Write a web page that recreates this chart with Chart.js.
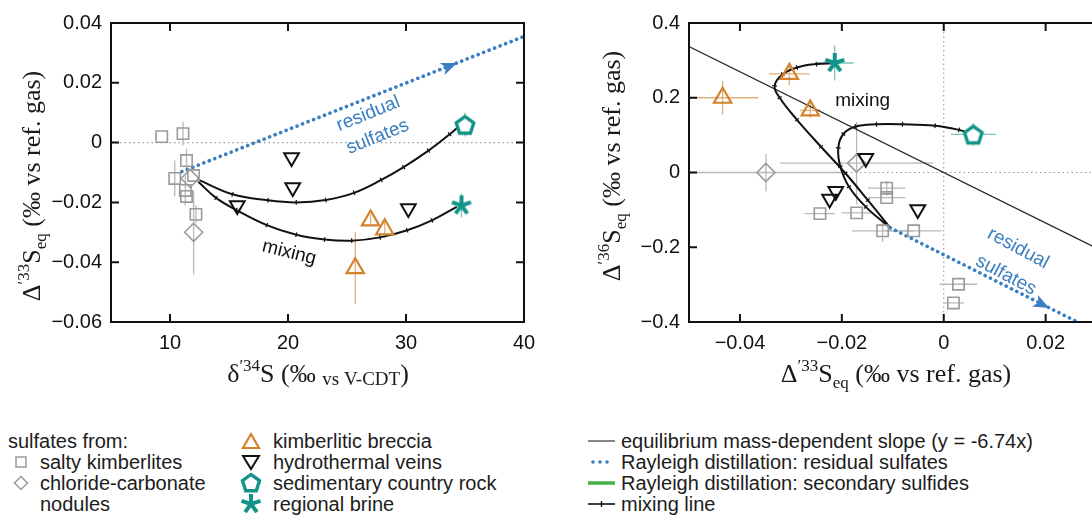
<!DOCTYPE html>
<html><head><meta charset="utf-8">
<script src="https://cdn.jsdelivr.net/npm/chart.js@4.4.1/dist/chart.umd.min.js"></script>
<style>
html,body{margin:0;padding:0;background:#fff;overflow:hidden;width:1092px;height:520px;position:relative;}
#left{position:absolute;left:0;top:0;width:546px;height:400px;}
#right{position:absolute;left:546px;top:0;width:630px;height:400px;}
.lg{position:absolute;font-family:"Liberation Sans",Arial,sans-serif;font-size:20px;color:#1c1c1c;height:22px;line-height:22px;white-space:nowrap;}
.ic{position:absolute;}
</style></head>
<body>
<div id="left"><canvas id="cL"></canvas></div>
<div id="right"><canvas id="cR"></canvas></div>
<div id="legend"></div>
<script>
// ---------------- data ----------------
// left panel: x = δ'34S, y = Δ'33Seq
const xTicksL = [10, 20, 30, 40];
const xTickLabelsL = ['10', '20', '30', '40'];
const yTicksL = [-0.06, -0.04, -0.02, 0, 0.02, 0.04];
const yTickLabelsL = ['\u22120.06', '\u22120.04', '\u22120.02', '0', '0.02', '0.04'];

const squaresL = [
  {x: 9.3, y: 0.002},
  {x: 11.1, y: 0.003, ye: 0.004},
  {x: 11.4, y: -0.006, ye: 0.004},
  {x: 10.4, y: -0.012, ye: 0.006},
  {x: 12.0, y: -0.011},
  {x: 11.3, y: -0.016, ye: 0.005},
  {x: 11.4, y: -0.018},
  {x: 12.2, y: -0.024, ye: 0.003}
];
const diamondsL = [{x: 11.7, y: -0.012}, {x: 12.0, y: -0.030, ye: 0.014}];
const veinsL = [{x: 20.3, y: -0.005}, {x: 20.4, y: -0.015}, {x: 15.7, y: -0.021}, {x: 30.2, y: -0.022}];
const brecciaL = [{x: 27.0, y: -0.026, ye: 0.002}, {x: 28.2, y: -0.029, ye: 0.003}, {x: 25.7, y: -0.042, ye: 0.012}];
const sedimentL = [{x: 35.0, y: 0.006, ye: 0.004}];
const brineL = [{x: 34.7, y: -0.021, ye: 0.004}];
const residualL = [{x: 11.0, y: -0.0097}, {x: 40.0, y: 0.0355}];
const arrowL = {x: 33.7, y: 0.0256};
const mixSedL = [
  {x: 12.3, y: -0.0122}, {x: 15.3, y: -0.0173}, {x: 18.3, y: -0.0193}, {x: 20.7, y: -0.0200},
  {x: 23.2, y: -0.0192}, {x: 25.6, y: -0.0168}, {x: 27.9, y: -0.0125}, {x: 29.8, y: -0.0082},
  {x: 31.9, y: -0.0027}, {x: 33.7, y: 0.0028}, {x: 34.5, y: 0.0055}
];
const mixBrineL = [
  {x: 12.4, y: -0.0131}, {x: 13.9, y: -0.0185}, {x: 15.6, y: -0.0225}, {x: 18.2, y: -0.0276},
  {x: 20.7, y: -0.0308}, {x: 23.1, y: -0.0324}, {x: 25.4, y: -0.0328}, {x: 27.8, y: -0.0317},
  {x: 30.1, y: -0.0293}, {x: 32.2, y: -0.0260}, {x: 34.3, y: -0.0215}
];

// right panel: x = Δ'33Seq, y = Δ'36Seq
const xTicksR = [-0.04, -0.02, 0, 0.02, 0.04];
const xTickLabelsR = ['\u22120.04', '\u22120.02', '0', '0.02', '0.04'];
const yTicksR = [-0.4, -0.2, 0, 0.2, 0.4];
const yTickLabelsR = ['\u22120.4', '\u22120.2', '0', '0.2', '0.4'];

const squaresR = [
  {x: -0.0112, y: -0.042, xe: 0.0037, ye: 0.02},
  {x: -0.0112, y: -0.067, xe: 0.0037},
  {x: -0.0243, y: -0.110, xe: 0.003},
  {x: -0.0171, y: -0.108, xe: 0.003},
  {x: -0.0120, y: -0.156, xe: 0.006, ye: 0.03},
  {x: -0.0059, y: -0.156, xe: 0.0055},
  {x: 0.0029, y: -0.299, xe: 0.0037},
  {x: 0.0019, y: -0.349, xe: 0.002}
];
const diamondsR = [{x: -0.0349, y: 0.0, xe: 0.015, ye: 0.05}, {x: -0.0171, y: 0.025, xe: 0.015, ye: 0.11}];
const veinsR = [{x: -0.0153, y: 0.038}, {x: -0.0212, y: -0.05}, {x: -0.0224, y: -0.071}, {x: -0.0051, y: -0.099}];
const brecciaR = [{x: -0.0303, y: 0.264, xe: 0.004, ye: 0.03}, {x: -0.0434, y: 0.20, xe: 0.007, ye: 0.045}, {x: -0.0262, y: 0.166, xe: 0.002, ye: 0.02}];
const sedimentR = [{x: 0.0058, y: 0.102, xe: 0.0044, ye: 0.03}];
const brineR = [{x: -0.0214, y: 0.293, xe: 0.0037, ye: 0.047}];
const equilibriumR = [{x: -0.05, y: 0.337}, {x: 0.04, y: -0.27}];
const residualR = [{x: -0.0105, y: -0.148}, {x: 0.035, y: -0.460}];
const arrowR = {x: 0.0193, y: -0.3526};
const mixBrineR = [
  {x: -0.0105, y: -0.148}, {x: -0.0149, y: -0.074}, {x: -0.0193, y: -0.002}, {x: -0.0241, y: 0.069},
  {x: -0.0288, y: 0.141}, {x: -0.0322, y: 0.200}, {x: -0.0332, y: 0.232}, {x: -0.0316, y: 0.263},
  {x: -0.0288, y: 0.281}, {x: -0.0250, y: 0.290}, {x: -0.0214, y: 0.292}
];
const mixSedR = [
  {x: -0.0105, y: -0.148}, {x: -0.0153, y: -0.092}, {x: -0.0186, y: -0.038}, {x: -0.0203, y: 0.016},
  {x: -0.0207, y: 0.066}, {x: -0.0197, y: 0.103}, {x: -0.0173, y: 0.123}, {x: -0.0132, y: 0.129},
  {x: -0.0081, y: 0.129}, {x: -0.0017, y: 0.125}, {x: 0.0030, y: 0.114}, {x: 0.0054, y: 0.104}
];

// ---------------- styling ----------------
const SANS = '"Liberation Sans", Arial, sans-serif';
const SERIF = '"Liberation Serif", "Times New Roman", serif';
const GRAY = '#9a9a9a', ERRGRAY = '#b8b8b8', ORANGE = '#d4832c', ORANGE_ERR = '#e2b07a';
const TEAL = '#129488', TEAL_ERR = '#7cc4bc', BLUE = '#3a7fc2', BLACK = '#111';

function pentagonCanvas() {
  const c = document.createElement('canvas'); c.width = c.height = 26;
  const g = c.getContext('2d'); g.strokeStyle = TEAL; g.lineWidth = 3.4; g.fillStyle = '#fff'; g.lineJoin = 'miter';
  g.beginPath();
  for (let i = 0; i < 5; i++) { const a = (-90 + 72 * i) * Math.PI / 180; const px = 13 + 9.2 * Math.cos(a), py = 14 + 9.2 * Math.sin(a); i ? g.lineTo(px, py) : g.moveTo(px, py); }
  g.closePath(); g.fill(); g.stroke(); return c;
}
function starCanvas() {
  const c = document.createElement('canvas'); c.width = c.height = 24;
  const g = c.getContext('2d'); g.strokeStyle = TEAL; g.lineWidth = 4; g.lineCap = 'butt';
  for (let i = 0; i < 5; i++) { const a = (-90 + 72 * i) * Math.PI / 180; g.beginPath(); g.moveTo(12, 12); g.lineTo(12 + 10 * Math.cos(a), 12 + 10 * Math.sin(a)); g.stroke(); }
  return c;
}
const PENT = pentagonCanvas(), STAR = starCanvas();

const tickRot = (ctx) => {
  const d = ctx.dataset.data, i = ctx.dataIndex, ch = ctx.chart;
  const a = d[Math.max(0, i - 1)], b = d[Math.min(d.length - 1, i + 1)];
  const xs = ch.scales.x, ys = ch.scales.y;
  const ang = Math.atan2(ys.getPixelForValue(b.y) - ys.getPixelForValue(a.y), xs.getPixelForValue(b.x) - xs.getPixelForValue(a.x));
  return ang * 180 / Math.PI + 90;
};
const tickRad = (ctx) => (ctx.dataIndex === 0 || ctx.dataIndex === ctx.dataset.data.length - 1) ? 0 : 2.4;

function markerSets(sq, di, ve, br, se, bn) {
  return [
    {data: bn, pointStyle: STAR, pointRadius: 11, errColor: TEAL_ERR},
    {data: se, pointStyle: PENT, pointRadius: 12, errColor: TEAL_ERR},
    {data: ve, pointStyle: 'triangle', pointRotation: 180, pointRadius: 8.5, pointBorderColor: BLACK, pointBackgroundColor: 'rgba(255,255,255,0)', pointBorderWidth: 2},
    {data: br, pointStyle: 'triangle', pointRadius: 10, pointBorderColor: ORANGE, pointBackgroundColor: 'rgba(255,255,255,0)', pointBorderWidth: 2.2, errColor: ORANGE_ERR},
    {data: di, pointStyle: 'rectRot', pointRadius: 9, pointBorderColor: GRAY, pointBackgroundColor: 'rgba(255,255,255,0)', pointBorderWidth: 1.6, errColor: ERRGRAY},
    {data: sq, pointStyle: 'rect', pointRadius: 8, pointBorderColor: GRAY, pointBackgroundColor: 'rgba(255,255,255,0)', pointBorderWidth: 1.6, errColor: ERRGRAY}
  ];
}
function mixSet(d) {
  return {data: d, showLine: true, borderColor: BLACK, borderWidth: 2, tension: 0.4, pointStyle: 'line', pointRadius: tickRad, pointRotation: tickRot, pointBorderColor: BLACK, pointBorderWidth: 1.2};
}
function dotSet(d) {
  return {data: d, showLine: true, borderColor: BLUE, borderWidth: 3.6, borderDash: [0.1, 5.8], borderCapStyle: 'round', pointRadius: 0};
}

function drawRich(ctx, runs, cx, cy, rot) {
  ctx.save(); ctx.translate(cx, cy); ctx.rotate(rot);
  let total = 0;
  runs.forEach(r => { ctx.font = r.s + 'px ' + SERIF; r.w = ctx.measureText(r.t).width; total += r.w; });
  let x = -total / 2; ctx.textAlign = 'left'; ctx.textBaseline = 'alphabetic'; ctx.fillStyle = '#1a1a1a';
  runs.forEach(r => { ctx.font = r.s + 'px ' + SERIF; ctx.fillText(r.t, x, r.dy || 0); x += r.w; });
  ctx.restore();
}

function makeDecor(cfg) {
  return {
    id: 'decor',
    beforeDatasetsDraw(chart) {
      const {ctx, chartArea: a, scales: {x, y}} = chart;
      ctx.save();
      ctx.beginPath(); ctx.rect(a.left, a.top, a.right - a.left, a.bottom - a.top); ctx.clip();
      ctx.strokeStyle = '#9a9a9a'; ctx.lineWidth = 1.1; ctx.setLineDash([1.5, 3]);
      const y0 = y.getPixelForValue(0);
      ctx.beginPath(); ctx.moveTo(a.left, y0); ctx.lineTo(a.right, y0); ctx.stroke();
      if (cfg.zeroX) { const x0 = x.getPixelForValue(0); ctx.beginPath(); ctx.moveTo(x0, a.top); ctx.lineTo(x0, a.bottom); ctx.stroke(); }
      ctx.setLineDash([]);
      chart.data.datasets.forEach(ds => {
        if (!ds.errColor) return;
        ctx.strokeStyle = ds.errColor; ctx.lineWidth = 1.3;
        ds.data.forEach(p => {
          const px = x.getPixelForValue(p.x), py = y.getPixelForValue(p.y);
          if (p.ye) { ctx.beginPath(); ctx.moveTo(px, y.getPixelForValue(p.y - p.ye)); ctx.lineTo(px, y.getPixelForValue(p.y + p.ye)); ctx.stroke(); }
          if (p.xe) { ctx.beginPath(); ctx.moveTo(x.getPixelForValue(p.x - p.xe), py); ctx.lineTo(x.getPixelForValue(p.x + p.xe), py); ctx.stroke(); }
        });
      });
      ctx.restore();
    },
    afterDatasetsDraw(chart) {
      const {ctx, chartArea: a, scales: {x, y}} = chart;
      ctx.save();
      const L = cfg.arrowLine, P = cfg.arrow;
      const ang = Math.atan2(y.getPixelForValue(L[1].y) - y.getPixelForValue(L[0].y), x.getPixelForValue(L[1].x) - x.getPixelForValue(L[0].x));
      const px = x.getPixelForValue(P.x), py = y.getPixelForValue(P.y);
      ctx.translate(px, py); ctx.rotate(ang); ctx.fillStyle = BLUE;
      ctx.beginPath(); ctx.moveTo(8, 0); ctx.lineTo(-8, -6.5); ctx.lineTo(-4, 0); ctx.lineTo(-8, 6.5); ctx.closePath(); ctx.fill();
      ctx.restore();
      cfg.labels.forEach(l => {
        ctx.save();
        ctx.translate(x.getPixelForValue(l.x), y.getPixelForValue(l.y)); ctx.rotate(l.rot * Math.PI / 180);
        ctx.font = '19px ' + SANS; ctx.fillStyle = l.color; ctx.textAlign = 'center'; ctx.textBaseline = 'middle';
        ctx.fillText(l.text, 0, 0); ctx.restore();
      });
      ctx.save();
      ctx.strokeStyle = '#111'; ctx.lineWidth = 2;
      ctx.strokeRect(a.left, a.top, a.right - a.left, a.bottom - a.top);
      const T = 8;
      x.ticks.forEach(t => {
        if (t.value <= x.min || t.value >= x.max) return;
        const p = x.getPixelForValue(t.value);
        ctx.beginPath(); ctx.moveTo(p, a.bottom); ctx.lineTo(p, a.bottom - T); ctx.moveTo(p, a.top); ctx.lineTo(p, a.top + T); ctx.stroke();
      });
      y.ticks.forEach(t => {
        if (t.value <= y.min || t.value >= y.max) return;
        const p = y.getPixelForValue(t.value);
        ctx.beginPath(); ctx.moveTo(a.left, p); ctx.lineTo(a.left + T, p); ctx.moveTo(a.right, p); ctx.lineTo(a.right - T, p); ctx.stroke();
      });
      ctx.restore();
    },
    afterDraw(chart) {
      const ctx = chart.ctx;
      drawRich(ctx, cfg.xTitle, cfg.xTitlePos[0], cfg.xTitlePos[1], 0);
      drawRich(ctx, cfg.yTitle, cfg.yTitlePos[0], cfg.yTitlePos[1], -Math.PI / 2);
    }
  };
}

function scaleOpts(min, max, ticks, labels, isX, size) {
  return {
    type: 'linear', min: min, max: max,
    afterBuildTicks: s => { s.ticks = ticks.map(v => ({value: v})); },
    afterFit: s => { if (isX) s.height = size; else s.width = size; },
    grid: {display: false, drawTicks: false}, border: {display: false},
    ticks: {padding: 9, color: '#111', font: {family: SANS, size: 20}, callback: (v, i) => labels[i]}
  };
}

function baseOptions(padRight, xr, yr) {
  return {
    responsive: true, maintainAspectRatio: false, animation: false, events: [],
    layout: {padding: {left: 0, top: 23, right: padRight, bottom: 38}},
    plugins: {legend: {display: false}, tooltip: {enabled: false}},
    scales: {x: xr, y: yr}
  };
}

new Chart(document.getElementById('cL'), {
  type: 'scatter',
  data: {datasets: [
    ...markerSets(squaresL, diamondsL, veinsL, brecciaL, sedimentL, brineL),
    dotSet(residualL), mixSet(mixSedL), mixSet(mixBrineL)
  ]},
  options: baseOptions(22,
    scaleOpts(5, 40, xTicksL, xTickLabelsL, true, 40),
    scaleOpts(-0.06, 0.04, yTicksL, yTickLabelsL, false, 111)),
  plugins: [makeDecor({
    zeroX: false, arrowLine: residualL, arrow: arrowL,
    labels: [
      {text: 'residual', x: 26.8, y: 0.0096, rot: -22, color: BLUE},
      {text: 'sulfates', x: 27.6, y: 0.0019, rot: -22, color: BLUE},
      {text: 'mixing', x: 20.1, y: -0.0368, rot: 14, color: BLACK}
    ],
    xTitle: [{t: '\u03b4', s: 26}, {t: '\u203234', s: 17, dy: -11}, {t: 'S (\u2030 ', s: 26}, {t: 'vs V-CDT', s: 19, dy: 3}, {t: ')', s: 26}],
    xTitlePos: [318, 382],
    yTitle: [{t: '\u0394', s: 26}, {t: '\u203233', s: 17, dy: -11}, {t: 'S', s: 26}, {t: 'eq', s: 17, dy: 6}, {t: ' (\u2030 vs ref. gas)', s: 26}],
    yTitlePos: [40, 186]
  })]
});

new Chart(document.getElementById('cR'), {
  type: 'scatter',
  data: {datasets: [
    ...markerSets(squaresR, diamondsR, veinsR, brecciaR, sedimentR, brineR),
    dotSet(residualR), mixSet(mixSedR), mixSet(mixBrineR),
    {data: equilibriumR, showLine: true, borderColor: '#2a2a2a', borderWidth: 1.2, pointRadius: 0}
  ]},
  options: baseOptions(21,
    scaleOpts(-0.05, 0.04, xTicksR, xTickLabelsR, true, 40),
    scaleOpts(-0.4, 0.4, yTicksR, yTickLabelsR, false, 143)),
  plugins: [makeDecor({
    zeroX: true, arrowLine: residualR, arrow: arrowR,
    labels: [
      {text: 'mixing', x: -0.0159, y: 0.191, rot: 0, color: BLACK},
      {text: 'residual', x: 0.0146, y: -0.203, rot: 28, color: BLUE},
      {text: 'sulfates', x: 0.0122, y: -0.275, rot: 28, color: BLUE}
    ],
    xTitle: [{t: '\u0394', s: 26}, {t: '\u203233', s: 17, dy: -11}, {t: 'S', s: 26}, {t: 'eq', s: 17, dy: 6}, {t: ' (\u2030 vs ref. gas)', s: 26}],
    xTitlePos: [350, 382],
    yTitle: [{t: '\u0394', s: 26}, {t: '\u203236', s: 17, dy: -11}, {t: 'S', s: 26}, {t: 'eq', s: 17, dy: 6}, {t: ' (\u2030 vs ref. gas)', s: 26}],
    yTitlePos: [74, 166]
  })]
});

// ---------------- legend ----------------
const legendLeft = ['sulfates from:', 'salty kimberlites', 'chloride-carbonate', 'nodules'];
const legendMid = ['kimberlitic breccia', 'hydrothermal veins', 'sedimentary country rock', 'regional brine'];
const legendRight = ['equilibrium mass-dependent slope (y = -6.74x)', 'Rayleigh distillation: residual sulfates', 'Rayleigh distillation: secondary sulfides', 'mixing line'];
const rowY = [441, 462, 483, 504];
const icons = {
  square: '<svg width="16" height="16"><rect x="3" y="3" width="10" height="10" fill="none" stroke="' + GRAY + '" stroke-width="1.5"/></svg>',
  diamond: '<svg width="16" height="16"><polygon points="8,1.5 14.5,8 8,14.5 1.5,8" fill="none" stroke="' + GRAY + '" stroke-width="1.5"/></svg>',
  tri: '<svg width="20" height="18"><polygon points="10,2 18,16 2,16" fill="none" stroke="' + ORANGE + '" stroke-width="2.2"/></svg>',
  tridown: '<svg width="20" height="18"><polygon points="2,3 18,3 10,16" fill="none" stroke="#111" stroke-width="2"/></svg>',
  pent: '<svg width="22" height="22"><polygon points="11,2.5 19.5,8.7 16.3,18.7 5.7,18.7 2.5,8.7" fill="#fff" stroke="' + TEAL + '" stroke-width="3.4"/></svg>',
  star: '<svg width="22" height="22"><g stroke="' + TEAL + '" stroke-width="4"><line x1="11" y1="11" x2="11" y2="1"/><line x1="11" y1="11" x2="20.5" y2="7.9"/><line x1="11" y1="11" x2="16.9" y2="19.1"/><line x1="11" y1="11" x2="5.1" y2="19.1"/><line x1="11" y1="11" x2="1.5" y2="7.9"/></g></svg>',
  eq: '<svg width="28" height="10"><line x1="0" y1="5" x2="27" y2="5" stroke="#444" stroke-width="1.3"/></svg>',
  dots: '<svg width="28" height="10"><g fill="' + BLUE + '"><circle cx="5" cy="5" r="1.8"/><circle cx="12" cy="5" r="1.8"/><circle cx="19" cy="5" r="1.8"/></g></svg>',
  green: '<svg width="28" height="10"><line x1="0" y1="5" x2="27" y2="5" stroke="#45b045" stroke-width="3.5"/></svg>',
  mix: '<svg width="28" height="10"><line x1="0" y1="5" x2="27" y2="5" stroke="#111" stroke-width="1.6"/><line x1="13.5" y1="2" x2="13.5" y2="8" stroke="#111" stroke-width="1.4"/></svg>'
};
const lg = document.getElementById('legend');
function addText(t, x, cy) { const d = document.createElement('div'); d.className = 'lg'; d.style.left = x + 'px'; d.style.top = (cy - 11) + 'px'; d.textContent = t; lg.appendChild(d); }
function addIcon(svg, cx, cy) { const d = document.createElement('div'); d.className = 'ic'; d.innerHTML = svg; lg.appendChild(d); const s = d.firstChild; d.style.left = (cx - s.getAttribute('width') / 2) + 'px'; d.style.top = (cy - s.getAttribute('height') / 2) + 'px'; d.style.lineHeight = '0'; }
addText(legendLeft[0], 8, rowY[0]);
addText(legendLeft[1], 40, rowY[1]); addIcon(icons.square, 21, rowY[1]);
addText(legendLeft[2], 40, rowY[2]); addIcon(icons.diamond, 21, rowY[2]);
addText(legendLeft[3], 40, rowY[3]);
const midIcons = [icons.tri, icons.tridown, icons.pent, icons.star];
legendMid.forEach((t, i) => { addText(t, 273, rowY[i]); addIcon(midIcons[i], 251, rowY[i]); });
const rightIcons = [icons.eq, icons.dots, icons.green, icons.mix];
legendRight.forEach((t, i) => { addText(t, 621, rowY[i]); addIcon(rightIcons[i], 602, rowY[i]); });
</script>
</body></html>
